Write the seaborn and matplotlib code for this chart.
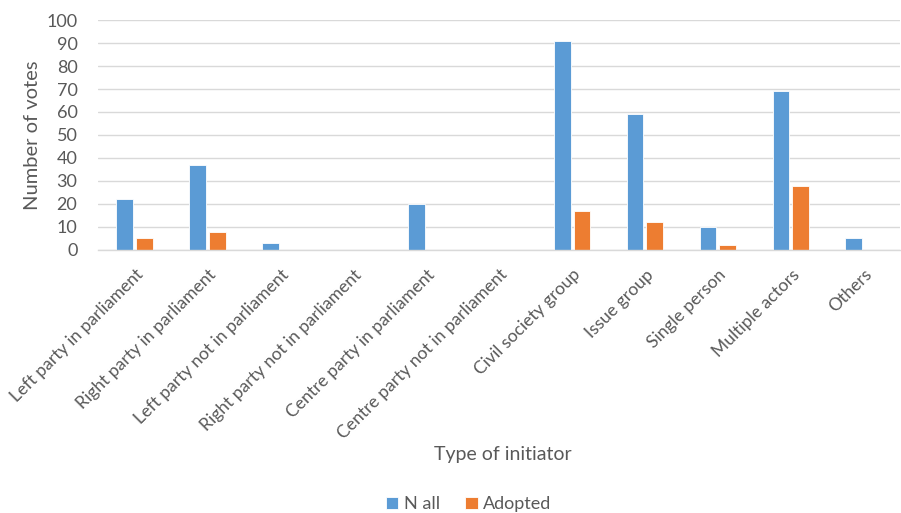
import matplotlib
matplotlib.use("Agg")
import matplotlib.pyplot as plt
import matplotlib.transforms as mtransforms
import seaborn as sns
import pandas as pd

categories = [
    "Left party in parliament",
    "Right party in parliament",
    "Left party not in parliament",
    "Right party not in parliament",
    "Centre party in parliament",
    "Centre party not in parliament",
    "Civil society group",
    "Issue group",
    "Single person",
    "Multiple actors",
    "Others",
]
n_all = [22, 37, 3, 0, 20, 0, 91, 59, 10, 69, 5]
adopted = [5, 8, 0, 0, 0, 0, 17, 12, 2, 28, 0]
series_names = ["N all", "Adopted"]
y_ticks = list(range(0, 101, 10))

df = pd.DataFrame({
    "initiator": categories * 2,
    "series": [series_names[0]] * len(categories) + [series_names[1]] * len(categories),
    "votes": n_all + adopted,
})

sns.set_theme(style="white")
plt.rcParams["font.family"] = ["Lato", "DejaVu Sans"]
text_color = "#595959"
grid_color = "#D9D9D9"

fig = plt.figure(figsize=(9.01, 5.13), dpi=100)
ax = fig.add_axes([0.109, 0.5127, 0.890, 0.4483])

sns.barplot(
    data=df, x="initiator", y="votes", hue="series",
    order=categories, hue_order=series_names,
    palette=["#5B9BD5", "#ED7D31"], saturation=1,
    width=0.54, gap=0.15, edgecolor="white", linewidth=0.6,
    legend=True, ax=ax,
)

ax.set_ylim(0, 100)
ax.set_xlim(-0.5, len(categories) - 0.5)
ax.set_yticks(y_ticks)
ax.yaxis.grid(True, color=grid_color, linewidth=1.0)
ax.set_axisbelow(True)
for side in ["top", "right", "left"]:
    ax.spines[side].set_visible(False)
ax.spines["bottom"].set_color(grid_color)
ax.spines["bottom"].set_linewidth(1.0)
ax.tick_params(axis="both", length=0, colors=text_color, labelsize=13)
ax.tick_params(axis="y", pad=15)
ax.tick_params(axis="x", pad=16)
ax.set_xticks(range(len(categories)))
ax.set_xticklabels(categories, rotation=45, ha="right", va="center",
                   rotation_mode="anchor", fontsize=12.6, color=text_color)
# nudge the slanted category labels a little to the right
shift = mtransforms.ScaledTranslation(6 / 100, 0, fig.dpi_scale_trans)
for lbl in ax.get_xticklabels():
    lbl.set_transform(lbl.get_transform() + shift)

ax.set_ylabel("Number of votes", fontsize=14.5, color=text_color, labelpad=4)
ax.set_xlabel("")
fig.text(0.558, 0.115, "Type of initiator", ha="center", va="center",
         fontsize=14, color=text_color)

handles, labels = ax.get_legend_handles_labels()
ax.get_legend().remove()
leg = fig.legend(handles, labels, loc="lower center", bbox_to_anchor=(0.52, -0.03),
                 ncol=2, frameon=False, fontsize=13, handlelength=0.7,
                 handleheight=0.7, handletextpad=0.3, columnspacing=1.4)
for t in leg.get_texts():
    t.set_color(text_color)

fig.savefig("out.png", dpi=100, facecolor="white")
